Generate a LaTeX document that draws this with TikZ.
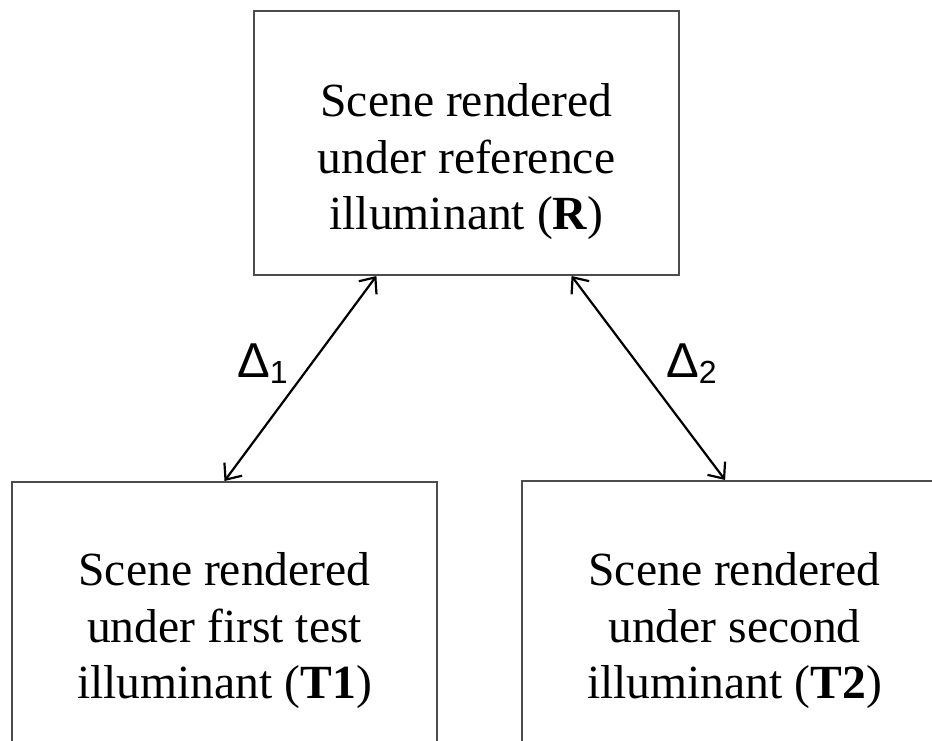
\documentclass[tikz,border=0pt]{standalone}
\usepackage{fontspec}
\setmainfont{Liberation Serif}
\newfontfamily\lblfont{Liberation Sans}
\usetikzlibrary{arrows.meta,calc}
\begin{document}
\begin{tikzpicture}[x=1pt,y=-1pt,
  box/.style={draw=black!70, line width=2pt, inner sep=0pt},
  txt/.style={font=\fontsize{47.6}{56.5}\selectfont, align=center, inner sep=0pt},
  lbl/.style={font=\lblfont\fontsize{49}{49}\selectfont, inner sep=0pt},
  link/.style={line width=2.2pt, {Straight Barb[length=13pt,width=22pt]}-{Straight Barb[length=13pt,width=22pt]}}]
\clip (0,0) rectangle (932,741);
\node[box, minimum width=425pt, minimum height=264pt] (R) at (466.5,143) {};
\node[box, minimum width=425pt, minimum height=300pt] (T1) at (224.5,632) {};
\node[box, minimum width=425pt, minimum height=300pt] (T2) at (734.5,631) {};
\node[txt] (Rt) at (466.5,162) {Scene rendered\\under reference\\illuminant (\textbf{R})};
\node[txt] (T1t) at (224.5,631) {Scene rendered\\under first test\\illuminant (\textbf{T1})};
\node[txt] (T2t) at (734.5,631) {Scene rendered\\under second\\illuminant (\textbf{T2})};
\draw[link] ($(R.south west)!0.289!(R.south east)$) -- (T1.north);
\draw[link] ($(R.south west)!0.746!(R.south east)$) -- ($(T2.north west)!0.478!(T2.north east)$);
\node[lbl, anchor=base west] (d1) at (237,377) {Δ\raisebox{-6pt}{\fontsize{32}{32}\selectfont 1}};
\node[lbl, anchor=base west] (d2) at (666,377) {Δ\raisebox{-6pt}{\fontsize{32}{32}\selectfont 2}};
\end{tikzpicture}
\end{document}
